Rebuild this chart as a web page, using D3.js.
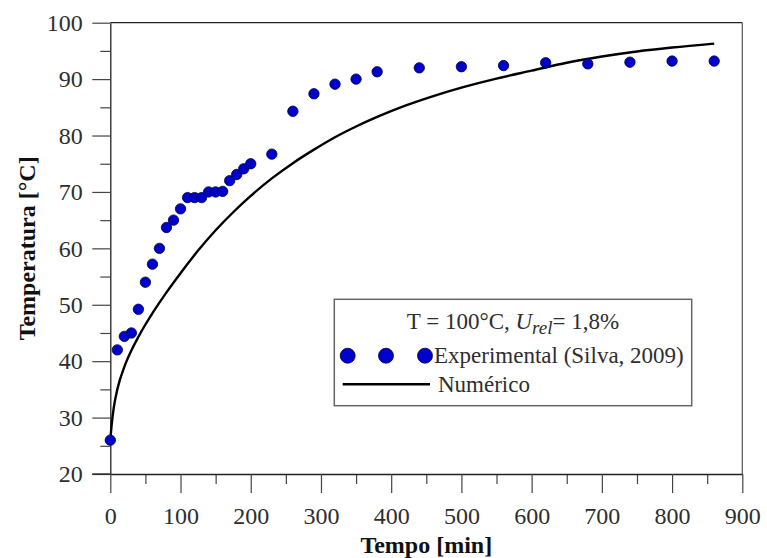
<!DOCTYPE html>
<html>
<head>
<meta charset="utf-8">
<script src="https://cdn.jsdelivr.net/npm/d3@7"></script>
<style>
  html, body { margin: 0; padding: 0; background: #fff; }
  svg { display: block; }
  text { font-family: "Liberation Serif", "Times New Roman", serif; }
</style>
</head>
<body>
<svg id="chart" width="767" height="558"></svg>
<script>
// ---- Data ----
const expTime = [0, 10, 20, 30, 40, 50, 60, 70, 80, 90, 100, 110, 120, 130, 140, 150, 160, 170, 180, 190, 200,
                 230, 260, 290, 320, 350, 380, 440, 500, 560, 620, 680, 740, 800, 860];
const expTemp = [26.0, 42.0, 44.4, 45.0, 49.2, 54.0, 57.2, 60.0, 63.7, 65.0, 67.0, 69.0, 69.0, 69.0, 70.0, 70.0, 70.1, 72.0, 73.1, 74.1, 75.0,
                 76.7, 84.3, 87.4, 89.1, 90.0, 91.3, 92.0, 92.2, 92.4, 92.9, 92.7, 93.0, 93.2, 93.2];
const numTime = [0, 2, 5, 10, 20, 30, 40, 50, 60, 80, 100, 125, 150, 175, 200, 230, 260, 290, 320, 350, 380,
                 420, 460, 500, 550, 600, 650, 700, 750, 800, 860];
const numTemp = [26.0, 28.8, 31.8, 35.0, 39.0, 41.9, 44.3, 46.5, 48.5, 52.2, 55.6, 59.6, 63.2, 66.4, 69.3, 72.4, 75.1, 77.5, 79.7, 81.6, 83.3,
                 85.3, 87.0, 88.5, 90.1, 91.5, 92.9, 94.0, 94.9, 95.6, 96.3];
const xTicks = [0, 100, 200, 300, 400, 500, 600, 700, 800, 900];
const xMinorTicks = [50, 150, 250, 350, 450, 550, 650, 750, 850];
const yTicks = [20, 30, 40, 50, 60, 70, 80, 90, 100];
const yMinorTicks = [25, 35, 45, 55, 65, 75, 85, 95];
const xTitle = "Tempo [min]";
const yTitle = "Temperatura [°C]";
const legendExp = "Experimental (Silva, 2009)";
const legendNum = "Numérico";

// ---- Layout ----
const svg = d3.select("#chart");
const mLeft = 110.3, mRight = 742.3, mTop = 22.7, mBottom = 474;
const x = d3.scaleLinear().domain([0, 900]).range([mLeft, mRight]);
const y = d3.scaleLinear().domain([20, 100]).range([mBottom, mTop]);
const axisColor = "#222";
const labelColor = "#2e2e2e";
const serif = '"Liberation Serif", "Times New Roman", serif';

// frame: top and right lines
svg.append("line").attr("x1", mLeft).attr("x2", mRight).attr("y1", mTop).attr("y2", mTop)
  .attr("stroke", axisColor).attr("stroke-width", 1.3);
svg.append("line").attr("x1", mRight).attr("x2", mRight).attr("y1", mTop).attr("y2", mBottom)
  .attr("stroke", "#555").attr("stroke-width", 1.2);

// minor ticks
svg.append("g").attr("transform", `translate(0,${mBottom})`)
  .call(d3.axisBottom(x).tickValues(xMinorTicks).tickSize(10).tickFormat(""))
  .call(g => g.select(".domain").remove())
  .call(g => g.selectAll("line").attr("stroke", "#444").attr("stroke-width", 1.2));
svg.append("g").attr("transform", `translate(${mLeft},0)`)
  .call(d3.axisLeft(y).tickValues(yMinorTicks).tickSize(10).tickFormat(""))
  .call(g => g.select(".domain").remove())
  .call(g => g.selectAll("line").attr("stroke", "#444").attr("stroke-width", 1.2));

// major axes
const xAxis = svg.append("g").attr("transform", `translate(0,${mBottom})`)
  .call(d3.axisBottom(x).tickValues(xTicks).tickSize(19).tickSizeOuter(0).tickPadding(14).tickFormat(d3.format("d")));
const yAxis = svg.append("g").attr("transform", `translate(${mLeft},0)`)
  .call(d3.axisLeft(y).tickValues(yTicks).tickSize(18).tickSizeOuter(0).tickPadding(9.5).tickFormat(d3.format("d")));
[xAxis, yAxis].forEach(g => {
  g.attr("font-family", serif).attr("font-size", 24);
  g.select(".domain").attr("stroke", axisColor).attr("stroke-width", 1.3);
  g.selectAll(".tick line").attr("stroke", "#444").attr("stroke-width", 1.2);
  g.selectAll(".tick text").attr("fill", labelColor);
});
svg.append("line").attr("x1", mLeft - 18).attr("x2", mLeft).attr("y1", mBottom).attr("y2", mBottom)
  .attr("stroke", axisColor).attr("stroke-width", 1.3);

// axis titles
svg.append("text").attr("x", (mLeft + mRight) / 2).attr("y", 553).attr("text-anchor", "middle")
  .attr("font-weight", "bold").attr("font-size", 24).attr("fill", "#111").text(xTitle);
svg.append("text").attr("transform", `translate(35,${(mTop + mBottom) / 2}) rotate(-90)`).attr("text-anchor", "middle")
  .attr("font-weight", "bold").attr("font-size", 24).attr("fill", "#111").text(yTitle);

// numerical line
const line = d3.line().x((d, i) => x(numTime[i])).y(d => y(d)).curve(d3.curveMonotoneX);
svg.append("path").datum(numTemp).attr("d", line).attr("fill", "none")
  .attr("stroke", "#000").attr("stroke-width", 2.4);

// experimental points
const ptFill = "#0000cc", ptStroke = "#00003a";
svg.append("g").selectAll("circle").data(expTemp).join("circle")
  .attr("cx", (d, i) => x(expTime[i])).attr("cy", d => y(d)).attr("r", 5.2)
  .attr("fill", ptFill).attr("stroke", ptStroke).attr("stroke-width", 0.8);

// legend
const lg = svg.append("g");
lg.append("rect").attr("x", 334.3).attr("y", 299.3).attr("width", 357.4).attr("height", 106.4)
  .attr("fill", "#fff").attr("stroke", "#666").attr("stroke-width", 1.5);
const t = lg.append("text").attr("x", 513).attr("y", 329).attr("text-anchor", "middle")
  .attr("font-size", 23).attr("fill", labelColor);
t.append("tspan").text("T = 100°C, ");
t.append("tspan").attr("font-style", "italic").text("U");
t.append("tspan").attr("font-style", "italic").attr("font-size", 19).attr("dy", 5).text("rel");
t.append("tspan").attr("dy", -5).text("= 1,8%");
lg.selectAll("circle.leg").data([347.7, 386, 425]).join("circle").attr("class", "leg")
  .attr("cx", d => d).attr("cy", 355.7).attr("r", 7.5)
  .attr("fill", ptFill).attr("stroke", ptStroke).attr("stroke-width", 0.8);
lg.append("text").attr("x", 434).attr("y", 363).attr("font-size", 23).attr("fill", labelColor).text(legendExp);
lg.append("line").attr("x1", 342.7).attr("x2", 430).attr("y1", 384.3).attr("y2", 384.3)
  .attr("stroke", "#000").attr("stroke-width", 2.4);
lg.append("text").attr("x", 438).attr("y", 392).attr("font-size", 23).attr("fill", labelColor).text(legendNum);
</script>
</body>
</html>
